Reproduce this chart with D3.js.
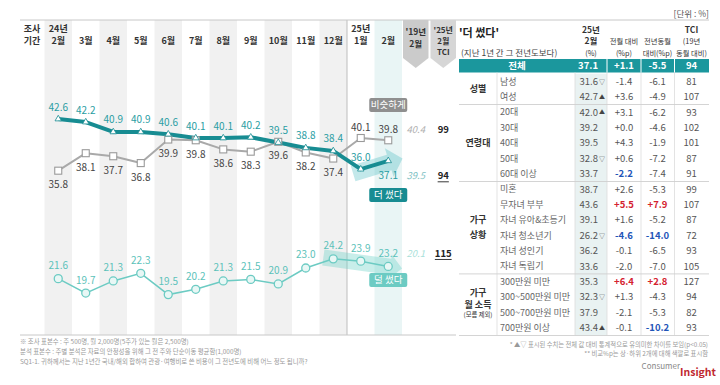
<!DOCTYPE html>
<html><head><meta charset="utf-8">
<script src="https://cdn.jsdelivr.net/npm/d3@7"></script>
<style>body{margin:0;background:#fff}svg{display:block;font-family:"Noto Sans CJK KR","Noto Sans",sans-serif}</style>
</head><body><svg id="c" width="720" height="385"></svg>
<script>
// ---------- data ----------
const months = ["24년\n2월","3월","4월","5월","6월","7월","8월","9월","10월","11월","12월","25년\n1월","2월"];
const extraCols = ["'19년\n2월","'25년\n2월\nTCI"];
const moreSpent = [42.6,42.2,40.9,40.9,40.6,40.1,40.1,40.2,39.5,38.8,38.4,36.0,37.1];
const similar   = [35.8,38.1,37.7,36.8,39.9,39.8,38.6,38.3,39.6,38.2,37.4,40.1,39.8];
const lessSpent = [21.6,19.7,21.3,22.3,19.5,20.2,21.3,21.5,20.9,23.0,24.2,23.9,23.2];
const seriesNames = ["비슷하게","더 썼다","덜 썼다"];
const ref2019 = [40.4, 39.5, 20.1];   // similar, more, less
const tci2025 = ["99", "94", "115"];

const tableTitle = "'더 썼다'";
const tableSub = "(지난 1년 간 그 전년도보다)";
const rowLabels = ["전체","남성","여성","20대","30대","40대","50대","60대 이상","미혼","무자녀 부부","자녀 유아&초등기","자녀 청소년기","자녀 성인기","자녀 독립기","300만원 미만","300~500만원 미만","500~700만원 미만","700만원 이상"];
const groupNames = ["성별","연령대","가구\n상황","가구\n월 소득\n(모름 제외)"];
const groupSizes = [2,5,6,4];
const feb25   = ["37.1","31.6","42.7","42.0","39.2","39.5","32.8","33.7","38.7","43.6","39.1","26.2","36.2","33.6","35.3","32.3","37.9","43.4"];
const sigMark = ["","▽","▲","▲","","","▽","","","","","▽","","","","▽","","▲"];
const momDiff = ["+1.1","-1.4","+3.6","+3.1","+0.0","+4.3","+0.6","-2.2","+2.6","+5.5","+1.6","-4.6","-0.1","-2.0","+6.4","+1.3","-2.1","-0.1"];
const yoyDiff = ["-5.5","-6.1","-4.9","-6.2","-4.6","-1.9","-7.2","-7.4","-5.3","+7.9","-5.2","-14.0","-6.5","-7.0","+2.8","-4.3","-5.3","-10.2"];
const tciRows = ["94","81","107","93","102","101","87","91","99","107","87","72","93","105","127","94","82","93"];
const colHeads = [["25년","2월","(%)"],["","전월 대비","(%p)"],["","전년동월","대비(%p)"],["TCI","(19년","동월 대비)"]];

const notesLeft = ["※ 조사 표본수 : 주 500명, 월 2,000명(5주가 있는 월은 2,500명)",
  "  분석 표본수 : 주별 분석은 자료의 안정성을 위해 그 전 주와 단순이동 평균함(1,000명)",
  "SQ1-1. 귀하께서는 지난 1년간 국내/해외 합하여 관광·여행비로 쓴 비용이 그 전년도에 비해 어느 정도 됩니까?"];
const notesRight = ["* ▲▽ 표시된 수치는 전체 값 대비 통계적으로 유의미한 차이를 보임(p<0.05)",
  "** 비교%p는 상·하위 2개에 대해 색깔로 표시함"];
const unitLabel = "[단위 : %]";
const periodLabel = "조사\n기간";

// ---------- colours ----------
const C = {teal:"#178c92", tealTxt:"#2a9da3", gray:"#a9a9a9", grayTxt:"#444", light:"#6ccbc3", lightTxt:"#5cc2ba",
  stripe:"#f1f1f1", stripe2:"#e9f5f5", band:"#1b979d"};

const svg = d3.select("#c");
function txt(g, xx, yc, s, o={}) {
  return g.append("text").attr("x", xx).attr("y", yc).attr("dy","0.35em")
    .attr("text-anchor", o.anchor||"middle").attr("font-size", o.size||10)
    .attr("font-weight", o.weight||"normal").attr("fill", o.fill||"#333")
    .attr("font-style", o.style||"normal").text(s);
}

// ---------- scales ----------
const colKeys = months.concat(extraCols);
const x = d3.scaleBand().domain(colKeys).range([44.5, 457]);
const cx = k => x(k) + x.bandwidth()/2;
const y = d3.scaleLinear().domain([19.5, 42.6]).range([294.6, 119]);

const gBg = svg.append("g");
months.forEach((m,i)=>{
  if (i%2===0 && i<=10) gBg.append("rect").attr("x",x(m)).attr("y",20).attr("width",x.bandwidth()).attr("height",315).attr("fill",C.stripe);
  if (i===12) gBg.append("rect").attr("x",x(m)).attr("y",20).attr("width",x.bandwidth()).attr("height",315).attr("fill",C.stripe2);
});
gBg.append("line").attr("x1",x(months[11])).attr("x2",x(months[11])).attr("y1",20).attr("y2",335).attr("stroke","#bdbdbd");
gBg.append("line").attr("x1",20).attr("x2",709).attr("y1",20).attr("y2",20).attr("stroke","#c8c8c8");
gBg.append("line").attr("x1",20).attr("x2",456).attr("y1",335).attr("y2",335).attr("stroke","#c8c8c8");

// chevrons
extraCols.forEach((k,i)=>{
  const x0 = x(k)+1, x1 = x(k)+x.bandwidth()-1, c = cx(k);
  gBg.append("path").attr("d",`M${x0},20L${x1},20L${x1},58L${c},68L${x0},58Z`).attr("fill", i===0?"#cbcbcb":"#d6d6d6");
});

// header
const gH = svg.append("g");
periodLabel.split("\n").forEach((s,j)=>txt(gH, 32, 28.5+j*12.5, s, {weight:"bold", size:9}));
months.forEach(m=>{
  const L = m.split("\n");
  L.forEach((s,j)=>txt(gH, cx(m), (L.length===2?28.5:41)+j*12.5, s, {weight:"bold", size:9}));
});
extraCols[0].split("\n").forEach((s,j)=>txt(gH, cx(extraCols[0]), 32.5+j*12, s, {weight:"bold", size:8.5}));
extraCols[1].split("\n").forEach((s,j)=>txt(gH, cx(extraCols[1]), 30+j*11, s, {weight:"bold", size:8}));

// arrows
function arrow(p1, p2, back, fwd, sh, hh, hl) {
  const dx=p2[0]-p1[0], dy=p2[1]-p1[1], L=Math.hypot(dx,dy), u=[dx/L,dy/L], n=[-u[1],u[0]];
  const s=[p1[0]-u[0]*back, p1[1]-u[1]*back], t=[p2[0]+u[0]*fwd, p2[1]+u[1]*fwd], b=[t[0]-u[0]*hl, t[1]-u[1]*hl];
  const P=(q,k)=>[q[0]+n[0]*k, q[1]+n[1]*k];
  return [P(s,sh),P(b,sh),P(b,hh),t,P(b,-hh),P(b,-sh),P(s,-sh)];
}
const last = months.length-1;
const gA = svg.append("g");
gA.append("polygon").attr("points", arrow([cx(months[11]), y(moreSpent[11])+2],[cx(months[12]), y(moreSpent[12])+2], 8, 15, 8, 15, 14).join(" "))
  .attr("fill","rgba(80,190,196,0.35)");
gA.append("polygon").attr("points", arrow([cx(months[10]), y(lessSpent[10])],[cx(months[12]), y(lessSpent[12])], 10, 14, 8, 12, 12).join(" "))
  .attr("fill","rgba(110,210,200,0.38)");

// lines
const line = d3.line().x((d,i)=>cx(months[i])).y(d=>y(d));
const gL = svg.append("g");
gL.append("path").datum(lessSpent).attr("d",line).attr("fill","none").attr("stroke",C.light).attr("stroke-width",1.5);
gL.append("path").datum(similar).attr("d",line).attr("fill","none").attr("stroke",C.gray).attr("stroke-width",2).attr("stroke-linejoin","round");
gL.append("path").datum(moreSpent).attr("d",line).attr("fill","none").attr("stroke",C.teal).attr("stroke-width",4).attr("stroke-linejoin","round");

// markers
lessSpent.forEach((v,i)=>gL.append("circle").attr("cx",cx(months[i])).attr("cy",y(v)).attr("r",4).attr("fill","#e8f7f5").attr("stroke",C.light).attr("stroke-width",1.3));
similar.forEach((v,i)=>gL.append("rect").attr("x",cx(months[i])-3.5).attr("y",y(v)-3.5).attr("width",7).attr("height",7).attr("fill","#fff").attr("stroke","#9a9a9a").attr("stroke-width",1.1));
const tri = d3.symbol(d3.symbolTriangle).size(18);
moreSpent.forEach((v,i)=>gL.append("path").attr("d",tri()).attr("transform",`translate(${cx(months[i])},${y(v)})`).attr("fill","#fff").attr("stroke",C.teal).attr("stroke-width",0.8));

// labels
const gT = svg.append("g");
const labY = {
  more: moreSpent.map((v,i)=> i===last ? y(v)+15 : y(v)-12),
  sim: similar.map((v,i)=> i>=11 ? y(v)-11 : y(v)+14),
  less: lessSpent.map(v=> y(v)-13)
};
moreSpent.forEach((v,i)=>txt(gT, cx(months[i]), labY.more[i], v.toFixed(1), {fill:C.tealTxt, size:10}));
similar.forEach((v,i)=>txt(gT, cx(months[i]), labY.sim[i], v.toFixed(1), {fill:C.grayTxt, size:10}));
lessSpent.forEach((v,i)=>txt(gT, cx(months[i]), labY.less[i], v.toFixed(1), {fill:C.lightTxt, size:10}));

// 2019 + TCI values
const yRows = [labY.sim[last], labY.more[last], labY.less[last]];
const refCols = ["#b0b0b0", "#7fc2c4", "#a9dfda"];
ref2019.forEach((v,i)=>txt(gT, cx(extraCols[0]), yRows[i], v.toFixed(1), {fill:refCols[i], style:"italic", size:9.5}));
tci2025.forEach((v,i)=>{
  txt(gT, cx(extraCols[1]), yRows[i], v, {weight:"bold", size:9.5, fill:"#222"});
  if (i>0) { const w = v.length*5.6; gT.append("line").attr("x1",cx(extraCols[1])-w/2).attr("x2",cx(extraCols[1])+w/2).attr("y1",yRows[i]+6).attr("y2",yRows[i]+6).attr("stroke","#222").attr("stroke-width",0.9); }
});

// series name boxes
const boxY = [105, 195, 280], boxC = ["#8f8f8f", C.teal, C.light];
seriesNames.forEach((s,i)=>{
  const c = cx(months[last]);
  gT.append("rect").attr("x",c-19).attr("y",boxY[i]-7).attr("width",38).attr("height",14).attr("rx",2).attr("fill",boxC[i]);
  txt(gT, c, boxY[i], s, {fill:"#fff", size:9.5});
});

// ---------- table ----------
const gTb = svg.append("g");
const colX = [575, 607, 641, 674.5, 709];
const colC = [591, 624, 657.5, 691.5];
const rowY = i => 66 + i*15.4;
gTb.append("rect").attr("x",colX[0]).attr("y",rowY(0.5)).attr("width",colX[1]-colX[0]).attr("height",rowY(17.5)-rowY(0.5)).attr("fill","#e9f2f2");
gTb.append("rect").attr("x",459).attr("y",59).attr("width",250).attr("height",13.5).attr("fill",C.band);
[1,2,3].forEach(k=>{
  gTb.append("line").attr("x1",colX[k]).attr("x2",colX[k]).attr("y1",59).attr("y2",72.5).attr("stroke","#fff").attr("stroke-width",1);
  gTb.append("line").attr("x1",colX[k]).attr("x2",colX[k]).attr("y1",72.5).attr("y2",rowY(17.5)).attr("stroke","#dcdcdc").attr("stroke-width",0.8);
});
gTb.append("line").attr("x1",colX[0]).attr("x2",colX[0]).attr("y1",72.5).attr("y2",rowY(17.5)).attr("stroke","#dcdcdc").attr("stroke-width",0.8);
gTb.append("line").attr("x1",497).attr("x2",497).attr("y1",72.5).attr("y2",rowY(17.5)).attr("stroke","#dcdcdc").attr("stroke-width",0.8);

txt(gTb, 459, 33, tableTitle, {anchor:"start", weight:"bold", size:11, fill:"#222"});
txt(gTb, 461, 53, tableSub, {anchor:"start", size:8.5, fill:"#444"});
txt(gTb, 709, 14, unitLabel, {anchor:"end", size:8.5, fill:"#555"});
colHeads.forEach((h,k)=>{
  h.forEach((s,j)=>{
    if (!s) return;
    const bold = (k===0 && j<2) || (k===3 && j===0);
    txt(gTb, colC[k], 30+j*11.5, s, {size: bold ? 8.5 : 7.3, weight: bold ? "bold":"normal", fill:"#333"});
  });
});

// highlight rule: top/bottom 2 (excluding total)
function hl(arr) {
  const vals = arr.slice(1).map(Number);
  const sorted = vals.slice().sort((a,b)=>a-b);
  return arr.map((s,i)=> i===0 ? null : (+s>=sorted[sorted.length-2] ? "#d4222f" : (+s<=sorted[1] ? "#1f55b8" : null)));
}
const hlM = hl(momDiff), hlY = hl(yoyDiff);
rowLabels.forEach((lab,i)=>{
  const yy = rowY(i), tot = i===0;
  const f = tot ? "#fff" : "#555";
  if (tot) txt(gTb, 517, yy, lab, {weight:"bold", fill:"#fff", size:9.5});
  else txt(gTb, 500, yy, lab, {anchor:"start", fill:"#666", size:9});
  txt(gTb, 598, yy, feb25[i], {anchor:"end", fill:f, size:9.5, weight: tot?"bold":"normal"});
  if (sigMark[i]) txt(gTb, 599, yy, sigMark[i], {anchor:"start", fill:"#444", size:6});
  txt(gTb, colC[1], yy, momDiff[i], {fill: hlM[i]||f, size:9.5, weight:(tot||hlM[i])?"bold":"normal"});
  txt(gTb, colC[2], yy, yoyDiff[i], {fill: hlY[i]||f, size:9.5, weight:(tot||hlY[i])?"bold":"normal"});
  txt(gTb, colC[3], yy, tciRows[i], {fill:f, size:9.5, weight: tot?"bold":"normal"});
});
let start = 1;
const groupLineGap = [[0],[0],[-7.5,7.5],[-12,0,10.5]];
groupSizes.forEach((n,g)=>{
  const mid = (rowY(start) + rowY(start+n-1))/2;
  const L = groupNames[g].split("\n");
  L.forEach((s,j)=>{
    const small = s.startsWith("(");
    txt(gTb, 478, mid + groupLineGap[g][j], s, {weight: small?"normal":"bold", size: small?6.3:9, fill:"#333"});
  });
  start += n;
  gTb.append("line").attr("x1",459).attr("x2",709).attr("y1",rowY(start-0.5)).attr("y2",rowY(start-0.5)).attr("stroke","#cfcfcf").attr("stroke-width",0.9);
});

// footnotes
notesLeft.forEach((s,i)=>txt(svg, 20, 342+i*10, s, {anchor:"start", size:6.4, fill:"#999"}));
notesRight.forEach((s,i)=>txt(svg, 708, 345+i*9, s, {anchor:"end", size:6.3, fill:"#999"}));
txt(svg, 680, 366, "Consumer", {anchor:"end", size:8, fill:"#888"});
txt(svg, 680, 372, "Insight", {anchor:"start", size:10.5, weight:"bold", fill:"#c0282f"});
</script></body></html>
